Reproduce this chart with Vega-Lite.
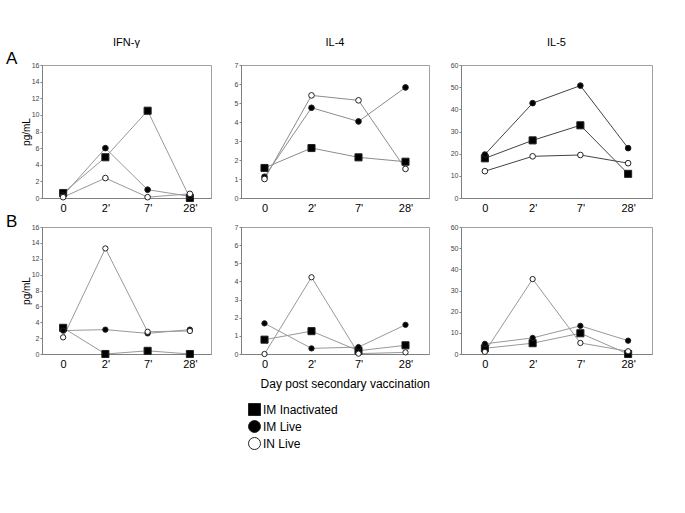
{
  "$schema": "https://vega.github.io/schema/vega-lite/v6.json",
  "padding": {"left": 6, "top": 36, "right": 5, "bottom": 5},
  "background": "white",
  "config": {
    "font": "Liberation Sans",
    "view": {"stroke": "#a0a0a0", "strokeWidth": 1},
    "axis": {"domainColor": "#808080", "tickColor": "#808080", "grid": false, "labelFont": "Liberation Sans", "titleFont": "Liberation Sans"},
    "axisX": {"ticks": false, "labelFontSize": 11, "labelColor": "#000", "labelPadding": 4, "labelAngle": 0, "title": null},
    "axisY": {"labelFontSize": 7, "labelColor": "#444", "tickSize": 2, "labelPadding": 1, "titleFontSize": 10, "titleFontWeight": "normal", "titleColor": "#000", "titlePadding": 0},
    "title": {"fontSize": 11, "fontWeight": "normal", "font": "Liberation Sans", "color": "#000", "offset": 13},
    "legend": {"symbolSize": 144, "labelFontSize": 12, "labelOffset": 2, "rowPadding": 0, "symbolStrokeWidth": 1, "padding": 0, "labelFont": "Liberation Sans", "labelColor": "#000"}
  },
  "data": {"values": [
    {"row":"A","cytokine":"IFN","group":"IM Inactivated","day":"0","value":0.6},
    {"row":"A","cytokine":"IFN","group":"IM Inactivated","day":"2'","value":4.9},
    {"row":"A","cytokine":"IFN","group":"IM Inactivated","day":"7'","value":10.5},
    {"row":"A","cytokine":"IFN","group":"IM Inactivated","day":"28'","value":0},
    {"row":"A","cytokine":"IFN","group":"IM Live","day":"0","value":0.3},
    {"row":"A","cytokine":"IFN","group":"IM Live","day":"2'","value":6.0},
    {"row":"A","cytokine":"IFN","group":"IM Live","day":"7'","value":1.0},
    {"row":"A","cytokine":"IFN","group":"IM Live","day":"28'","value":0.2},
    {"row":"A","cytokine":"IFN","group":"IN Live","day":"0","value":0.1},
    {"row":"A","cytokine":"IFN","group":"IN Live","day":"2'","value":2.4},
    {"row":"A","cytokine":"IFN","group":"IN Live","day":"7'","value":0.1},
    {"row":"A","cytokine":"IFN","group":"IN Live","day":"28'","value":0.5},
    {"row":"A","cytokine":"IL4","group":"IM Inactivated","day":"0","value":1.58},
    {"row":"A","cytokine":"IL4","group":"IM Inactivated","day":"2'","value":2.63},
    {"row":"A","cytokine":"IL4","group":"IM Inactivated","day":"7'","value":2.14},
    {"row":"A","cytokine":"IL4","group":"IM Inactivated","day":"28'","value":1.91},
    {"row":"A","cytokine":"IL4","group":"IM Live","day":"0","value":1.12},
    {"row":"A","cytokine":"IL4","group":"IM Live","day":"2'","value":4.75},
    {"row":"A","cytokine":"IL4","group":"IM Live","day":"7'","value":4.03},
    {"row":"A","cytokine":"IL4","group":"IM Live","day":"28'","value":5.82},
    {"row":"A","cytokine":"IL4","group":"IN Live","day":"0","value":1.0},
    {"row":"A","cytokine":"IL4","group":"IN Live","day":"2'","value":5.4},
    {"row":"A","cytokine":"IL4","group":"IN Live","day":"7'","value":5.14},
    {"row":"A","cytokine":"IL4","group":"IN Live","day":"28'","value":1.53},
    {"row":"A","cytokine":"IL5","group":"IM Inactivated","day":"0","value":17.9},
    {"row":"A","cytokine":"IL5","group":"IM Inactivated","day":"2'","value":26.0},
    {"row":"A","cytokine":"IL5","group":"IM Inactivated","day":"7'","value":32.8},
    {"row":"A","cytokine":"IL5","group":"IM Inactivated","day":"28'","value":10.9},
    {"row":"A","cytokine":"IL5","group":"IM Live","day":"0","value":19.6},
    {"row":"A","cytokine":"IL5","group":"IM Live","day":"2'","value":42.8},
    {"row":"A","cytokine":"IL5","group":"IM Live","day":"7'","value":50.7},
    {"row":"A","cytokine":"IL5","group":"IM Live","day":"28'","value":22.5},
    {"row":"A","cytokine":"IL5","group":"IN Live","day":"0","value":12.1},
    {"row":"A","cytokine":"IL5","group":"IN Live","day":"2'","value":18.8},
    {"row":"A","cytokine":"IL5","group":"IN Live","day":"7'","value":19.4},
    {"row":"A","cytokine":"IL5","group":"IN Live","day":"28'","value":15.7},
    {"row":"B","cytokine":"IFN","group":"IM Inactivated","day":"0","value":3.3},
    {"row":"B","cytokine":"IFN","group":"IM Inactivated","day":"2'","value":0},
    {"row":"B","cytokine":"IFN","group":"IM Inactivated","day":"7'","value":0.4},
    {"row":"B","cytokine":"IFN","group":"IM Inactivated","day":"28'","value":0},
    {"row":"B","cytokine":"IFN","group":"IM Live","day":"0","value":2.95},
    {"row":"B","cytokine":"IFN","group":"IM Live","day":"2'","value":3.07},
    {"row":"B","cytokine":"IFN","group":"IM Live","day":"7'","value":2.6},
    {"row":"B","cytokine":"IFN","group":"IM Live","day":"28'","value":3.07},
    {"row":"B","cytokine":"IFN","group":"IN Live","day":"0","value":2.1},
    {"row":"B","cytokine":"IFN","group":"IN Live","day":"2'","value":13.3},
    {"row":"B","cytokine":"IFN","group":"IN Live","day":"7'","value":2.8},
    {"row":"B","cytokine":"IFN","group":"IN Live","day":"28'","value":2.9},
    {"row":"B","cytokine":"IL4","group":"IM Inactivated","day":"0","value":0.79},
    {"row":"B","cytokine":"IL4","group":"IM Inactivated","day":"2'","value":1.26},
    {"row":"B","cytokine":"IL4","group":"IM Inactivated","day":"7'","value":0.18},
    {"row":"B","cytokine":"IL4","group":"IM Inactivated","day":"28'","value":0.48},
    {"row":"B","cytokine":"IL4","group":"IM Live","day":"0","value":1.69},
    {"row":"B","cytokine":"IL4","group":"IM Live","day":"2'","value":0.31},
    {"row":"B","cytokine":"IL4","group":"IM Live","day":"7'","value":0.38},
    {"row":"B","cytokine":"IL4","group":"IM Live","day":"28'","value":1.61},
    {"row":"B","cytokine":"IL4","group":"IN Live","day":"0","value":0},
    {"row":"B","cytokine":"IL4","group":"IN Live","day":"2'","value":4.23},
    {"row":"B","cytokine":"IL4","group":"IN Live","day":"7'","value":0.02},
    {"row":"B","cytokine":"IL4","group":"IN Live","day":"28'","value":0.09},
    {"row":"B","cytokine":"IL5","group":"IM Inactivated","day":"0","value":2.7},
    {"row":"B","cytokine":"IL5","group":"IM Inactivated","day":"2'","value":5.1},
    {"row":"B","cytokine":"IL5","group":"IM Inactivated","day":"7'","value":9.8},
    {"row":"B","cytokine":"IL5","group":"IM Inactivated","day":"28'","value":0},
    {"row":"B","cytokine":"IL5","group":"IM Live","day":"0","value":4.8},
    {"row":"B","cytokine":"IL5","group":"IM Live","day":"2'","value":7.6},
    {"row":"B","cytokine":"IL5","group":"IM Live","day":"7'","value":13.3},
    {"row":"B","cytokine":"IL5","group":"IM Live","day":"28'","value":6.3},
    {"row":"B","cytokine":"IL5","group":"IN Live","day":"0","value":1.0},
    {"row":"B","cytokine":"IL5","group":"IN Live","day":"2'","value":35.4},
    {"row":"B","cytokine":"IL5","group":"IN Live","day":"7'","value":5.2},
    {"row":"B","cytokine":"IL5","group":"IN Live","day":"28'","value":1.3}
  ]},
  "spacing": -2,
  "resolve": {"scale": {"shape": "shared", "fill": "shared", "stroke": "shared"}, "legend": {"shape": "shared", "fill": "shared", "stroke": "shared"}},
  "vconcat": [
    {
      "spacing": 19,
      "resolve": {"scale": {"shape": "shared", "fill": "shared", "stroke": "shared"}, "legend": {"shape": "shared", "fill": "shared", "stroke": "shared"}},
      "hconcat": [
        {
          "title": {"text": "A", "orient": "left", "anchor": "end", "angle": 0, "fontSize": 17, "offset": -8, "dy": 14},
          "spacing": 21,
          "resolve": {"scale": {"shape": "shared", "fill": "shared", "stroke": "shared"}, "legend": {"shape": "shared", "fill": "shared", "stroke": "shared"}},
          "hconcat": [
            {
              "width": 169, "height": 133,
              "title": {"text": "IFN-γ"},
              "transform": [{"filter": "datum.row === 'A' && datum.cytokine === 'IFN'"}],
              "encoding": {
                "x": {"field": "day", "type": "ordinal", "sort": ["0", "2'", "7'", "28'"], "axis": {"title": null}},
                "y": {"field": "value", "type": "quantitative", "scale": {"domain": [0, 16], "nice": false}, "axis": {"values": [0, 2, 4, 6, 8, 10, 12, 14, 16], "title": "pg/mL"}}
              },
              "layer": [
                {"mark": {"type": "line", "color": "#999999", "strokeWidth": 1}, "encoding": {"detail": {"field": "group"}, "order": {"value": null}}},
                {"transform": [{"filter": "datum.group === 'IM Inactivated'"}], "mark": {"type": "point", "filled": true, "strokeWidth": 1, "opacity": 1, "size": 50},
                 "encoding": {
                   "shape": {"field": "group", "scale": {"domain": ["IM Inactivated", "IM Live", "IN Live"], "range": ["square", "circle", "circle"]}, "legend": {"title": null, "orient": "none", "legendX": 206, "legendY": 338, "direction": "vertical"}},
                   "fill": {"field": "group", "scale": {"domain": ["IM Inactivated", "IM Live", "IN Live"], "range": ["#000000", "#000000", "#ffffff"]}, "legend": {"title": null, "orient": "none", "legendX": 206, "legendY": 338, "direction": "vertical"}},
                   "stroke": {"field": "group", "scale": {"domain": ["IM Inactivated", "IM Live", "IN Live"], "range": ["#222222", "#222222", "#222222"]}, "legend": {"title": null, "orient": "none", "legendX": 206, "legendY": 338, "direction": "vertical"}}
                 }},
                {"transform": [{"filter": "datum.group !== 'IM Inactivated'"}], "mark": {"type": "point", "filled": true, "strokeWidth": 1, "opacity": 1, "size": 32},
                 "encoding": {
                   "shape": {"field": "group", "scale": {"domain": ["IM Inactivated", "IM Live", "IN Live"], "range": ["square", "circle", "circle"]}, "legend": {"title": null, "orient": "none", "legendX": 206, "legendY": 338, "direction": "vertical"}},
                   "fill": {"field": "group", "scale": {"domain": ["IM Inactivated", "IM Live", "IN Live"], "range": ["#000000", "#000000", "#ffffff"]}, "legend": {"title": null, "orient": "none", "legendX": 206, "legendY": 338, "direction": "vertical"}},
                   "stroke": {"field": "group", "scale": {"domain": ["IM Inactivated", "IM Live", "IN Live"], "range": ["#222222", "#222222", "#222222"]}, "legend": {"title": null, "orient": "none", "legendX": 206, "legendY": 338, "direction": "vertical"}}
                 }}
              ]
            },
            {
              "width": 188, "height": 133,
              "title": {"text": "IL-4"},
              "transform": [{"filter": "datum.row === 'A' && datum.cytokine === 'IL4'"}],
              "encoding": {
                "x": {"field": "day", "type": "ordinal", "sort": ["0", "2'", "7'", "28'"], "axis": {"title": null}},
                "y": {"field": "value", "type": "quantitative", "scale": {"domain": [0, 7], "nice": false}, "axis": {"values": [0, 1, 2, 3, 4, 5, 6, 7], "title": null}}
              },
              "layer": [
                {"mark": {"type": "line", "color": "#8c8c8c", "strokeWidth": 1}, "encoding": {"detail": {"field": "group"}, "order": {"value": null}}},
                {"transform": [{"filter": "datum.group === 'IM Inactivated'"}], "mark": {"type": "point", "filled": true, "strokeWidth": 1, "opacity": 1, "size": 50},
                 "encoding": {
                   "shape": {"field": "group", "scale": {"domain": ["IM Inactivated", "IM Live", "IN Live"], "range": ["square", "circle", "circle"]}, "legend": {"title": null, "orient": "none", "legendX": 206, "legendY": 338, "direction": "vertical"}},
                   "fill": {"field": "group", "scale": {"domain": ["IM Inactivated", "IM Live", "IN Live"], "range": ["#000000", "#000000", "#ffffff"]}, "legend": {"title": null, "orient": "none", "legendX": 206, "legendY": 338, "direction": "vertical"}},
                   "stroke": {"field": "group", "scale": {"domain": ["IM Inactivated", "IM Live", "IN Live"], "range": ["#222222", "#222222", "#222222"]}, "legend": {"title": null, "orient": "none", "legendX": 206, "legendY": 338, "direction": "vertical"}}
                 }},
                {"transform": [{"filter": "datum.group !== 'IM Inactivated'"}], "mark": {"type": "point", "filled": true, "strokeWidth": 1, "opacity": 1, "size": 32},
                 "encoding": {
                   "shape": {"field": "group", "scale": {"domain": ["IM Inactivated", "IM Live", "IN Live"], "range": ["square", "circle", "circle"]}, "legend": {"title": null, "orient": "none", "legendX": 206, "legendY": 338, "direction": "vertical"}},
                   "fill": {"field": "group", "scale": {"domain": ["IM Inactivated", "IM Live", "IN Live"], "range": ["#000000", "#000000", "#ffffff"]}, "legend": {"title": null, "orient": "none", "legendX": 206, "legendY": 338, "direction": "vertical"}},
                   "stroke": {"field": "group", "scale": {"domain": ["IM Inactivated", "IM Live", "IN Live"], "range": ["#222222", "#222222", "#222222"]}, "legend": {"title": null, "orient": "none", "legendX": 206, "legendY": 338, "direction": "vertical"}}
                 }}
              ]
            }
          ]
        },
        {
          "width": 191, "height": 133,
          "title": {"text": "IL-5"},
          "transform": [{"filter": "datum.row === 'A' && datum.cytokine === 'IL5'"}],
          "encoding": {
            "x": {"field": "day", "type": "ordinal", "sort": ["0", "2'", "7'", "28'"], "axis": {"title": null}},
            "y": {"field": "value", "type": "quantitative", "scale": {"domain": [0, 60], "nice": false}, "axis": {"values": [0, 10, 20, 30, 40, 50, 60], "title": null}}
          },
          "layer": [
            {"mark": {"type": "line", "color": "#444444", "strokeWidth": 1}, "encoding": {"detail": {"field": "group"}, "order": {"value": null}}},
            {"transform": [{"filter": "datum.group === 'IM Inactivated'"}], "mark": {"type": "point", "filled": true, "strokeWidth": 1, "opacity": 1, "size": 50},
             "encoding": {
               "shape": {"field": "group", "scale": {"domain": ["IM Inactivated", "IM Live", "IN Live"], "range": ["square", "circle", "circle"]}, "legend": {"title": null, "orient": "none", "legendX": 206, "legendY": 338, "direction": "vertical"}},
               "fill": {"field": "group", "scale": {"domain": ["IM Inactivated", "IM Live", "IN Live"], "range": ["#000000", "#000000", "#ffffff"]}, "legend": {"title": null, "orient": "none", "legendX": 206, "legendY": 338, "direction": "vertical"}},
               "stroke": {"field": "group", "scale": {"domain": ["IM Inactivated", "IM Live", "IN Live"], "range": ["#222222", "#222222", "#222222"]}, "legend": {"title": null, "orient": "none", "legendX": 206, "legendY": 338, "direction": "vertical"}}
             }},
            {"transform": [{"filter": "datum.group !== 'IM Inactivated'"}], "mark": {"type": "point", "filled": true, "strokeWidth": 1, "opacity": 1, "size": 32},
             "encoding": {
               "shape": {"field": "group", "scale": {"domain": ["IM Inactivated", "IM Live", "IN Live"], "range": ["square", "circle", "circle"]}, "legend": {"title": null, "orient": "none", "legendX": 206, "legendY": 338, "direction": "vertical"}},
               "fill": {"field": "group", "scale": {"domain": ["IM Inactivated", "IM Live", "IN Live"], "range": ["#000000", "#000000", "#ffffff"]}, "legend": {"title": null, "orient": "none", "legendX": 206, "legendY": 338, "direction": "vertical"}},
               "stroke": {"field": "group", "scale": {"domain": ["IM Inactivated", "IM Live", "IN Live"], "range": ["#222222", "#222222", "#222222"]}, "legend": {"title": null, "orient": "none", "legendX": 206, "legendY": 338, "direction": "vertical"}}
             }}
          ]
        }
      ]
    },
    {
      "title": {"text": "Day post secondary vaccination", "orient": "bottom", "anchor": "middle", "fontSize": 12, "offset": 9, "dx": 16},
      "spacing": 19,
      "resolve": {"scale": {"shape": "shared", "fill": "shared", "stroke": "shared"}, "legend": {"shape": "shared", "fill": "shared", "stroke": "shared"}},
      "hconcat": [
        {
          "title": {"text": "B", "orient": "left", "anchor": "end", "angle": 0, "fontSize": 17, "offset": -8, "dy": -9},
          "spacing": 21,
          "resolve": {"scale": {"shape": "shared", "fill": "shared", "stroke": "shared"}, "legend": {"shape": "shared", "fill": "shared", "stroke": "shared"}},
          "hconcat": [
            {
              "width": 169, "height": 127,
              "transform": [{"filter": "datum.row === 'B' && datum.cytokine === 'IFN'"}],
              "encoding": {
                "x": {"field": "day", "type": "ordinal", "sort": ["0", "2'", "7'", "28'"], "axis": {"title": null}},
                "y": {"field": "value", "type": "quantitative", "scale": {"domain": [0, 16], "nice": false}, "axis": {"values": [0, 2, 4, 6, 8, 10, 12, 14, 16], "title": "pg/mL"}}
              },
              "layer": [
                {"mark": {"type": "line", "color": "#999999", "strokeWidth": 1}, "encoding": {"detail": {"field": "group"}, "order": {"value": null}}},
                {"transform": [{"filter": "datum.group === 'IM Inactivated'"}], "mark": {"type": "point", "filled": true, "strokeWidth": 1, "opacity": 1, "size": 50},
                 "encoding": {
                   "shape": {"field": "group", "scale": {"domain": ["IM Inactivated", "IM Live", "IN Live"], "range": ["square", "circle", "circle"]}, "legend": {"title": null, "orient": "none", "legendX": 206, "legendY": 338, "direction": "vertical"}},
                   "fill": {"field": "group", "scale": {"domain": ["IM Inactivated", "IM Live", "IN Live"], "range": ["#000000", "#000000", "#ffffff"]}, "legend": {"title": null, "orient": "none", "legendX": 206, "legendY": 338, "direction": "vertical"}},
                   "stroke": {"field": "group", "scale": {"domain": ["IM Inactivated", "IM Live", "IN Live"], "range": ["#222222", "#222222", "#222222"]}, "legend": {"title": null, "orient": "none", "legendX": 206, "legendY": 338, "direction": "vertical"}}
                 }},
                {"transform": [{"filter": "datum.group !== 'IM Inactivated'"}], "mark": {"type": "point", "filled": true, "strokeWidth": 1, "opacity": 1, "size": 28},
                 "encoding": {
                   "shape": {"field": "group", "scale": {"domain": ["IM Inactivated", "IM Live", "IN Live"], "range": ["square", "circle", "circle"]}, "legend": {"title": null, "orient": "none", "legendX": 206, "legendY": 338, "direction": "vertical"}},
                   "fill": {"field": "group", "scale": {"domain": ["IM Inactivated", "IM Live", "IN Live"], "range": ["#000000", "#000000", "#ffffff"]}, "legend": {"title": null, "orient": "none", "legendX": 206, "legendY": 338, "direction": "vertical"}},
                   "stroke": {"field": "group", "scale": {"domain": ["IM Inactivated", "IM Live", "IN Live"], "range": ["#222222", "#222222", "#222222"]}, "legend": {"title": null, "orient": "none", "legendX": 206, "legendY": 338, "direction": "vertical"}}
                 }}
              ]
            },
            {
              "width": 188, "height": 127,
              "transform": [{"filter": "datum.row === 'B' && datum.cytokine === 'IL4'"}],
              "encoding": {
                "x": {"field": "day", "type": "ordinal", "sort": ["0", "2'", "7'", "28'"], "axis": {"title": null}},
                "y": {"field": "value", "type": "quantitative", "scale": {"domain": [0, 7], "nice": false}, "axis": {"values": [0, 1, 2, 3, 4, 5, 6, 7], "title": null}}
              },
              "layer": [
                {"mark": {"type": "line", "color": "#999999", "strokeWidth": 1}, "encoding": {"detail": {"field": "group"}, "order": {"value": null}}},
                {"transform": [{"filter": "datum.group === 'IM Inactivated'"}], "mark": {"type": "point", "filled": true, "strokeWidth": 1, "opacity": 1, "size": 50},
                 "encoding": {
                   "shape": {"field": "group", "scale": {"domain": ["IM Inactivated", "IM Live", "IN Live"], "range": ["square", "circle", "circle"]}, "legend": {"title": null, "orient": "none", "legendX": 206, "legendY": 338, "direction": "vertical"}},
                   "fill": {"field": "group", "scale": {"domain": ["IM Inactivated", "IM Live", "IN Live"], "range": ["#000000", "#000000", "#ffffff"]}, "legend": {"title": null, "orient": "none", "legendX": 206, "legendY": 338, "direction": "vertical"}},
                   "stroke": {"field": "group", "scale": {"domain": ["IM Inactivated", "IM Live", "IN Live"], "range": ["#222222", "#222222", "#222222"]}, "legend": {"title": null, "orient": "none", "legendX": 206, "legendY": 338, "direction": "vertical"}}
                 }},
                {"transform": [{"filter": "datum.group !== 'IM Inactivated'"}], "mark": {"type": "point", "filled": true, "strokeWidth": 1, "opacity": 1, "size": 28},
                 "encoding": {
                   "shape": {"field": "group", "scale": {"domain": ["IM Inactivated", "IM Live", "IN Live"], "range": ["square", "circle", "circle"]}, "legend": {"title": null, "orient": "none", "legendX": 206, "legendY": 338, "direction": "vertical"}},
                   "fill": {"field": "group", "scale": {"domain": ["IM Inactivated", "IM Live", "IN Live"], "range": ["#000000", "#000000", "#ffffff"]}, "legend": {"title": null, "orient": "none", "legendX": 206, "legendY": 338, "direction": "vertical"}},
                   "stroke": {"field": "group", "scale": {"domain": ["IM Inactivated", "IM Live", "IN Live"], "range": ["#222222", "#222222", "#222222"]}, "legend": {"title": null, "orient": "none", "legendX": 206, "legendY": 338, "direction": "vertical"}}
                 }}
              ]
            }
          ]
        },
        {
          "width": 191, "height": 127,
          "transform": [{"filter": "datum.row === 'B' && datum.cytokine === 'IL5'"}],
          "encoding": {
            "x": {"field": "day", "type": "ordinal", "sort": ["0", "2'", "7'", "28'"], "axis": {"title": null}},
            "y": {"field": "value", "type": "quantitative", "scale": {"domain": [0, 60], "nice": false}, "axis": {"values": [0, 10, 20, 30, 40, 50, 60], "title": null}}
          },
          "layer": [
            {"mark": {"type": "line", "color": "#999999", "strokeWidth": 1}, "encoding": {"detail": {"field": "group"}, "order": {"value": null}}},
            {"transform": [{"filter": "datum.group === 'IM Inactivated'"}], "mark": {"type": "point", "filled": true, "strokeWidth": 1, "opacity": 1, "size": 50},
             "encoding": {
               "shape": {"field": "group", "scale": {"domain": ["IM Inactivated", "IM Live", "IN Live"], "range": ["square", "circle", "circle"]}, "legend": {"title": null, "orient": "none", "legendX": 206, "legendY": 338, "direction": "vertical"}},
               "fill": {"field": "group", "scale": {"domain": ["IM Inactivated", "IM Live", "IN Live"], "range": ["#000000", "#000000", "#ffffff"]}, "legend": {"title": null, "orient": "none", "legendX": 206, "legendY": 338, "direction": "vertical"}},
               "stroke": {"field": "group", "scale": {"domain": ["IM Inactivated", "IM Live", "IN Live"], "range": ["#222222", "#222222", "#222222"]}, "legend": {"title": null, "orient": "none", "legendX": 206, "legendY": 338, "direction": "vertical"}}
             }},
            {"transform": [{"filter": "datum.group !== 'IM Inactivated'"}], "mark": {"type": "point", "filled": true, "strokeWidth": 1, "opacity": 1, "size": 28},
             "encoding": {
               "shape": {"field": "group", "scale": {"domain": ["IM Inactivated", "IM Live", "IN Live"], "range": ["square", "circle", "circle"]}, "legend": {"title": null, "orient": "none", "legendX": 206, "legendY": 338, "direction": "vertical"}},
               "fill": {"field": "group", "scale": {"domain": ["IM Inactivated", "IM Live", "IN Live"], "range": ["#000000", "#000000", "#ffffff"]}, "legend": {"title": null, "orient": "none", "legendX": 206, "legendY": 338, "direction": "vertical"}},
               "stroke": {"field": "group", "scale": {"domain": ["IM Inactivated", "IM Live", "IN Live"], "range": ["#222222", "#222222", "#222222"]}, "legend": {"title": null, "orient": "none", "legendX": 206, "legendY": 338, "direction": "vertical"}}
             }}
          ]
        }
      ]
    }
  ]
}
